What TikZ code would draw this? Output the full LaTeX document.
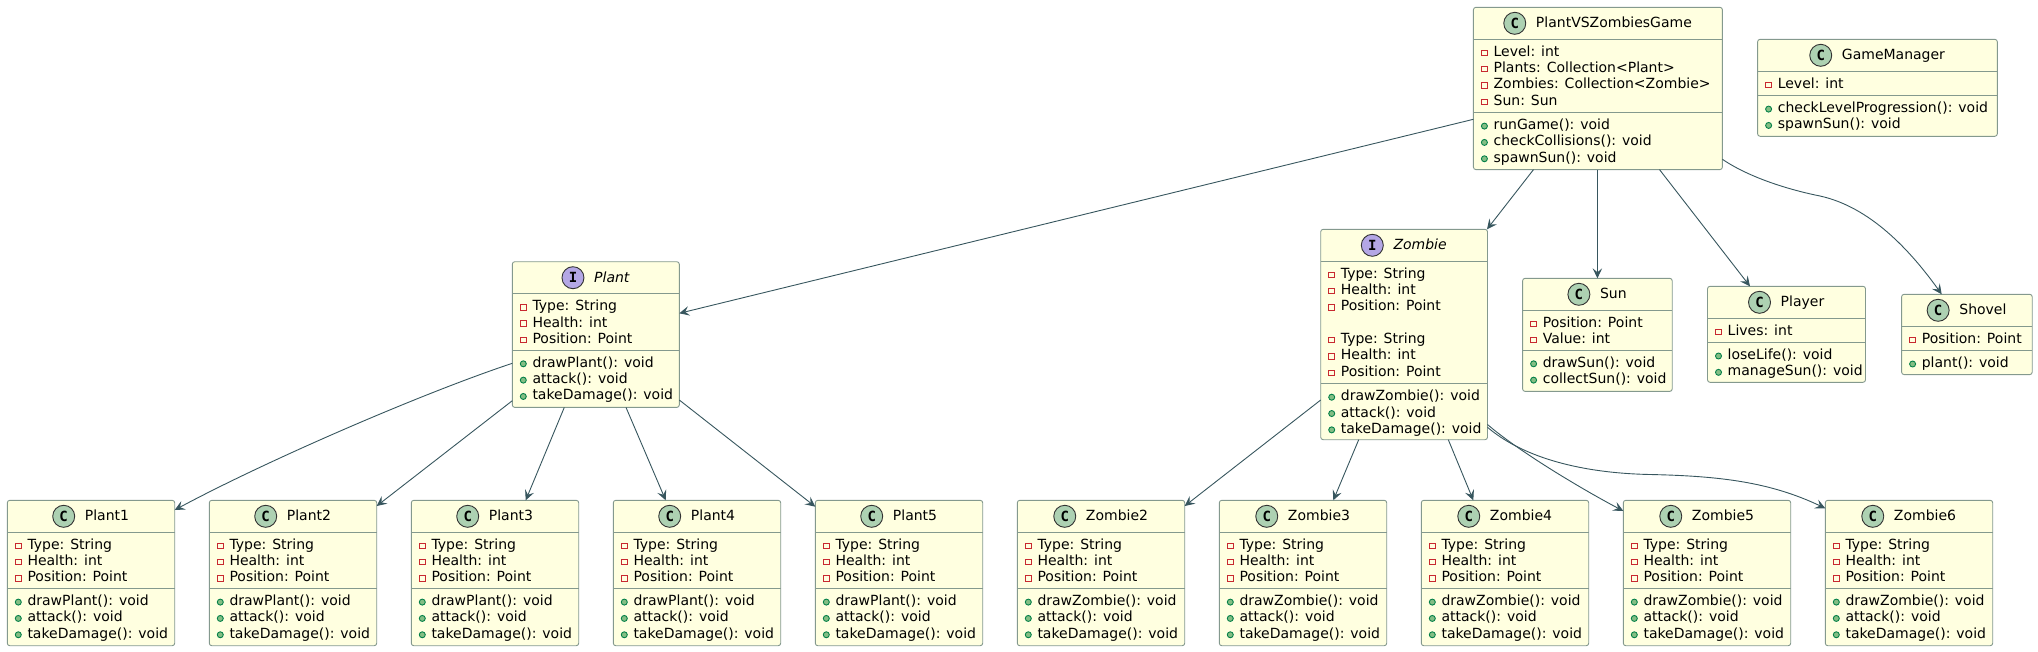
\documentclass[tikz,border=0pt]{standalone}
\usepackage{fontspec}
\setmainfont{DejaVu Sans}
\newfontfamily\iconfont{DejaVu Sans Mono}
\usetikzlibrary{arrows.meta}

\definecolor{boxfill}{HTML}{FFFFE0}
\definecolor{boxedge}{HTML}{84998E}
\definecolor{wirecol}{HTML}{37565E}
\definecolor{iconC}{HTML}{ADD1B2}
\definecolor{iconI}{HTML}{B4A7E5}
\definecolor{privcol}{HTML}{C82930}
\definecolor{pubedge}{HTML}{038048}
\definecolor{pubfill}{HTML}{84BE84}

\tikzset{
  classbody/.style={draw=boxedge,fill=boxfill,line width=0.9pt,rounded corners=2.5pt,inner sep=0pt,outer sep=0pt},
  classline/.style={draw=boxedge,line width=0.9pt},
  classtitle/.style={anchor=base,inner sep=0pt,font=\fontsize{14}{16}\selectfont},
  classicon/.style={circle,draw=black!80,line width=0.9pt,minimum size=22pt,inner sep=0pt,font=\fontsize{14}{14}\iconfont\bfseries},
  memberline/.style={anchor=base west,inner sep=0pt,font=\fontsize{14}{16}\selectfont},
  privmark/.style={draw=privcol,fill=boxfill,line width=0.9pt,minimum size=5.6pt,inner sep=0pt},
  pubmark/.style={circle,draw=pubedge,fill=pubfill,line width=0.9pt,minimum size=6pt,inner sep=0pt},
  dep/.style={draw=wirecol,line width=0.9pt,-{Stealth[length=10pt,width=9.5pt,inset=4pt]}}
}

\newcommand{\classbox}[8]{
  \pgfmathsetmacro{\midx}{(#4+#6)/2}
  \pgfmathsetmacro{\midy}{(#5+#8)/2}
  \pgfmathsetmacro{\wide}{#6-#4}
  \pgfmathsetmacro{\high}{#8-#5}
  \pgfmathsetmacro{\heady}{#5+32}
  \node[classbody,minimum width=\wide pt,minimum height=\high pt] (#1) at (\midx,\midy) {};
  \draw[classline] (#1.west |- 0,\heady) -- (#1.east |- 0,\heady);
  \draw[classline] (#1.west |- 0,#7) -- (#1.east |- 0,#7);
  \node[classtitle] (#1title) at (\midx+16,#5+20.5) {#3};
  \node[classicon,fill=icon#2] (#1icon) at ([xshift=-21pt]#1title.west |- 0,#5+16) {#2};
}

\newcommand{\members}[5]{
  \foreach \txt [count=\row from 0] in {#5} {
    \pgfmathsetmacro{\liney}{#4+17+16.33*\row}
    \ifx\txt\empty\else
      \node[#3] (#1#2m\row) at ([xshift=11pt]#1.west |- 0,\liney-3.5) {};
      \node[memberline] (#1#2t\row) at ([xshift=20pt]#1.west |- 0,\liney) {\txt};
    \fi
  }
}

\begin{document}
\begin{tikzpicture}[x=1pt,y=-1pt]
\useasboundingbox (0,0) rectangle (2038,651);

\classbox{game}{C}{PlantVSZombiesGame}{1473.4}{7.3}{1722.4}{112.6}{169.6}
\members{game}{f}{privmark}{39.3}{Level: int,Plants: Collection<Plant>,Zombies: Collection<Zombie>,Sun: Sun}
\members{game}{g}{pubmark}{112.6}{runGame(): void,checkCollisions(): void,spawnSun(): void}

\classbox{manager}{C}{GameManager}{1757.6}{39.3}{1997.3}{95.6}{136.3}
\members{manager}{f}{privmark}{71.3}{Level: int}
\members{manager}{g}{pubmark}{95.6}{checkLevelProgression(): void,spawnSun(): void}

\classbox{plant}{I}{\itshape Plant}{512.3}{261.7}{679.3}{350.3}{407.4}
\members{plant}{f}{privmark}{293.7}{Type: String,Health: int,Position: Point}
\members{plant}{g}{pubmark}{350.3}{drawPlant(): void,attack(): void,takeDamage(): void}

\classbox{zombie}{I}{\itshape Zombie}{1320.7}{229.3}{1487.5}{383.7}{439.7}
\members{zombie}{f}{privmark}{261.3}{Type: String,Health: int,Position: Point,,Type: String,Health: int,Position: Point}
\members{zombie}{g}{pubmark}{383.7}{drawZombie(): void,attack(): void,takeDamage(): void}

\classbox{sun}{C}{Sun}{1522.6}{278.3}{1672.2}{350.3}{391.4}
\members{sun}{f}{privmark}{310.3}{Position: Point,Value: int}
\members{sun}{g}{pubmark}{350.3}{drawSun(): void,collectSun(): void}

\classbox{player}{C}{Player}{1707.5}{286.3}{1865.5}{342.5}{382.3}
\members{player}{f}{privmark}{318.3}{Lives: int}
\members{player}{g}{pubmark}{342.5}{loseLife(): void,manageSun(): void}

\classbox{shovel}{C}{Shovel}{1901.6}{294.3}{2032.2}{350.5}{374.6}
\members{shovel}{f}{privmark}{326.3}{Position: Point}
\members{shovel}{g}{pubmark}{350.5}{plant(): void}

\foreach \i in {1,...,5} {
  \pgfmathsetmacro{\boxl}{7.3+202*(\i-1)}
  \pgfmathsetmacro{\boxr}{\boxl+167.4}
  \classbox{plant\i}{C}{Plant\i}{\boxl}{500.3}{\boxr}{588.6}{645.7}
  \members{plant\i}{f}{privmark}{532.3}{Type: String,Health: int,Position: Point}
  \members{plant\i}{g}{pubmark}{588.6}{drawPlant(): void,attack(): void,takeDamage(): void}
}

\foreach \i in {2,...,6} {
  \pgfmathsetmacro{\boxl}{1017.3+202*(\i-2)}
  \pgfmathsetmacro{\boxr}{\boxl+167.4}
  \classbox{zombie\i}{C}{Zombie\i}{\boxl}{500.3}{\boxr}{588.6}{645.7}
  \members{zombie\i}{f}{privmark}{532.3}{Type: String,Health: int,Position: Point}
  \members{zombie\i}{g}{pubmark}{588.6}{drawZombie(): void,attack(): void,takeDamage(): void}
}

\draw[dep] (game.west |- 0,119.3) -- (plant.east |- 0,313.3);
\draw[dep] (1533.5,0 |- game.south) -- (1487,0 |- zombie.north);
\draw[dep] (game.south -| sun.north) -- (sun.north);
\draw[dep] (1659.5,0 |- game.south) -- (1750,0 |- player.north);
\draw[dep] (game.east |- 0,159.3) .. controls (1750,178) and (1790,190) .. (1820,196) .. controls (1870,207) and (1910,250) .. (1941.7,0 |- shovel.north);

\draw[dep] (plant.west |- 0,363.3) .. controls (420,394) and (264,462) .. (plant1.east |- 0,510);
\draw[dep] (plant.west |- 0,400.7) -- (plant2.east |- 0,506);
\draw[dep] (564.3,0 |- plant.south) -- (525.7,0 |- plant3.north);
\draw[dep] (626,0 |- plant.south) -- (665.7,0 |- plant4.north);
\draw[dep] (plant.east |- 0,400) -- (plant5.west |- 0,506.7);

\draw[dep] (zombie.west |- 0,400) -- (zombie2.east |- 0,506);
\draw[dep] (1358.7,0 |- zombie.south) -- (1333.3,0 |- zombie3.north);
\draw[dep] (1448.3,0 |- zombie.south) -- (1473.3,0 |- zombie4.north);
\draw[dep] (zombie.east |- 0,424.5) .. controls (1517,450) and (1578,487) .. (zombie5.west |- 0,511);
\draw[dep] (zombie.east |- 0,427.3) .. controls (1520,455) and (1575,473) .. (1650,474.5) .. controls (1720,476) and (1770,482) .. (zombie6.west |- 0,508.3);
\end{tikzpicture}
\end{document}
